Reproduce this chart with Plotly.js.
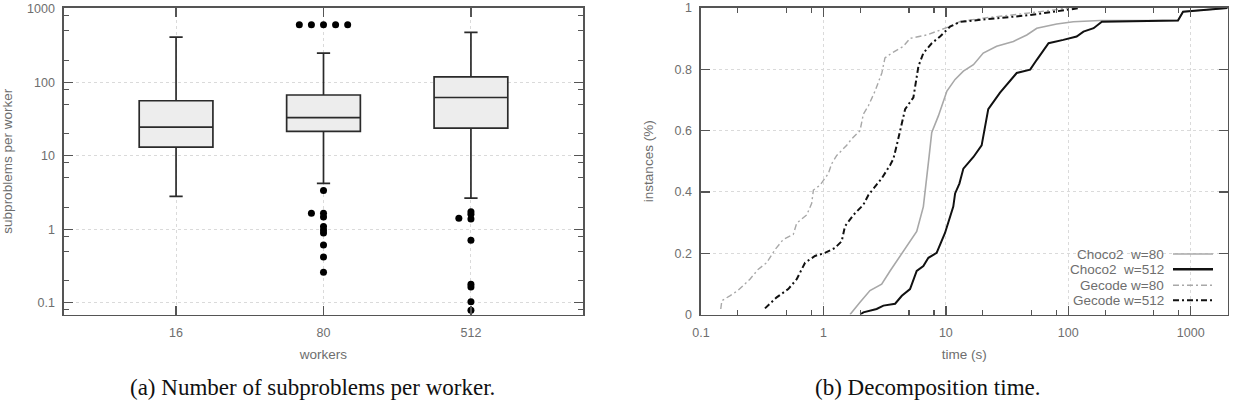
<!DOCTYPE html>
<html>
<head>
<meta charset="utf-8">
<script src="https://cdn.plot.ly/plotly-3.0.1.min.js"></script>
<style>html,body{margin:0;padding:0;background:#fff;}#chart{width:1236px;height:402px;}</style>
</head>
<body>
<div id="chart"></div>
<script>
// ---------- Data: (a) subproblems per worker ----------
const workerCategories = ['16', '80', '512'];
const boxLowerWhisker = [2.8, 4.2, 2.65];
const boxQ1 = [13.1, 21.4, 23.8];
const boxMedian = [24.5, 33, 62];
const boxQ3 = [56, 67, 118];
const boxUpperWhisker = [412, 249, 476];
const outliers16 = [];
const outliers80 = [604, 604, 604, 604, 604, 3.36, 1.65, 1.65, 1.47, 1.09, 0.975, 0.89, 0.61, 0.42, 0.26];
const outliers512 = [1.73, 1.6, 1.38, 1.41, 0.71, 0.178, 0.164, 0.103, 0.079];
const yTickVals = [0.1, 1, 10, 100, 1000];
const yTickText = ['0.1', '1', '10', '100', '1000'];

// ---------- Data: (b) decomposition time ----------
const choco80Time = [1.65, 1.70, 1.99, 2.40, 2.99, 3.50, 4.23, 4.94, 5.78, 6.55, 6.98, 7.29, 7.67, 8.69, 10.2, 11.9, 13.9, 16.8, 20.2, 26.0, 35.6, 45.8, 55.3, 80.5, 110, 182, 787, 866, 2000];
const choco80Frac = [0.0, 0.007, 0.04, 0.078, 0.099, 0.142, 0.191, 0.234, 0.271, 0.352, 0.438, 0.514, 0.594, 0.648, 0.729, 0.767, 0.794, 0.815, 0.853, 0.875, 0.891, 0.912, 0.934, 0.948, 0.955, 0.959, 0.959, 0.988, 1.0];
const choco512Time = [2.0, 2.12, 2.72, 3.09, 3.85, 4.37, 5.1, 5.78, 6.55, 7.2, 8.41, 9.84, 11.5, 11.9, 12.9, 13.9, 16.8, 19.6, 22.2, 27.7, 37.9, 48.8, 55.3, 69, 91, 117, 133, 161, 188, 787, 866, 2000];
const choco512Frac = [0.0, 0.007, 0.018, 0.029, 0.035, 0.061, 0.083, 0.142, 0.158, 0.185, 0.201, 0.266, 0.352, 0.395, 0.427, 0.476, 0.514, 0.552, 0.67, 0.724, 0.788, 0.799, 0.831, 0.885, 0.896, 0.907, 0.923, 0.934, 0.955, 0.959, 0.988, 1.0];
const gecode80Time = [0.145, 0.148, 0.172, 0.20, 0.251, 0.294, 0.344, 0.403, 0.47, 0.567, 0.605, 0.731, 0.802, 0.828, 0.938, 1.097, 1.169, 1.285, 1.55, 1.70, 1.99, 2.12, 2.33, 2.64, 3.0, 3.18, 3.61, 4.5, 5.1, 6.98, 8.97, 10.8, 13.1, 20.2, 48.8, 100];
const gecode80Frac = [0.018, 0.045, 0.061, 0.078, 0.115, 0.148, 0.169, 0.212, 0.245, 0.261, 0.298, 0.325, 0.363, 0.406, 0.422, 0.46, 0.492, 0.519, 0.552, 0.573, 0.6, 0.654, 0.681, 0.729, 0.788, 0.837, 0.853, 0.875, 0.901, 0.912, 0.928, 0.94, 0.956, 0.967, 0.984, 1.0];
const gecode512Time = [0.333, 0.415, 0.516, 0.605, 0.708, 0.853, 1.03, 1.24, 1.41, 1.50, 1.76, 2.12, 2.33, 2.56, 2.99, 3.5, 3.73, 3.97, 4.23, 4.65, 5.43, 5.78, 5.97, 6.55, 7.67, 8.97, 10.8, 13.1, 20.2, 48.8, 125];
const gecode512Frac = [0.02, 0.056, 0.083, 0.115, 0.169, 0.191, 0.201, 0.217, 0.239, 0.288, 0.325, 0.358, 0.39, 0.411, 0.444, 0.487, 0.508, 0.552, 0.6, 0.67, 0.708, 0.767, 0.81, 0.853, 0.885, 0.907, 0.939, 0.955, 0.962, 0.977, 1.0];
const seriesNames = ['Choco2\u00a0 w=80', 'Choco2\u00a0 w=512', 'Gecode w=80', 'Gecode w=512'];
const xTickVals2 = [0.1, 1, 10, 100, 1000];
const xTickText2 = ['0.1', '1', '10', '100', '1000'];
const yTickVals2 = [0, 0.2, 0.4, 0.6, 0.8, 1];
const yTickText2 = ['0', '0.2', '0.4', '0.6', '0.8', '1'];
const captionA = '(a) Number of subproblems per worker.';
const captionB = '(b) Decomposition time.';

// ---------- helpers ----------
function minorLogTicks(fromExp, toExp) {
  const out = [];
  for (let e = fromExp; e <= toExp; e++) [2, 5, 8].forEach(m => out.push(m * Math.pow(10, e)));
  return out;
}
// gnuplot-like jitter for overlapping outliers: 0, -1, +1, -2, +2 ...
function jitterX(vals, idx) {
  const clusters = [];
  return vals.map(v => {
    let c = clusters.find(c => Math.abs(Math.log10(c.v) - Math.log10(v)) < 0.02);
    if (!c) { c = { v: v, n: 0 }; clusters.push(c); }
    const k = c.n++;
    const off = k === 0 ? 0 : (k % 2 === 1 ? -Math.ceil(k / 2) : Math.ceil(k / 2));
    return idx + off * 0.082;
  });
}

const FONT = 'Liberation Sans, Arial, sans-serif';
const TXT = '#6e6e6e';
const AX = '#555555';
const GRID = '#dadada';
const catIdx = workerCategories.map((c, i) => i);

const outlierGroups = [outliers16, outliers80, outliers512];
const outX = [], outY = [];
outlierGroups.forEach((g, i) => { jitterX(g, i).forEach(x => outX.push(x)); g.forEach(v => outY.push(v)); });

const traces = [
  {
    type: 'box', x: catIdx, q1: boxQ1, median: boxMedian, q3: boxQ3,
    lowerfence: boxLowerWhisker, upperfence: boxUpperWhisker,
    width: 0.5, whiskerwidth: 0.18, boxpoints: false,
    fillcolor: '#ededed', line: { color: '#2a2a2a', width: 1.7 },
    xaxis: 'x', yaxis: 'y', showlegend: false, hoverinfo: 'skip'
  },
  {
    type: 'scatter', mode: 'markers', x: outX, y: outY,
    marker: { color: '#000', size: 7 }, xaxis: 'x', yaxis: 'y', showlegend: false
  },
  { type: 'scatter', mode: 'lines', x: choco80Time, y: choco80Frac, name: seriesNames[0], line: { color: '#a8a8a8', width: 1.6 }, xaxis: 'x2', yaxis: 'y2', showlegend: false },
  { type: 'scatter', mode: 'lines', x: gecode80Time, y: gecode80Frac, name: seriesNames[2], line: { color: '#a8a8a8', width: 1.4, dash: '6px,3px,2px,3px' }, xaxis: 'x2', yaxis: 'y2', showlegend: false },
  { type: 'scatter', mode: 'lines', x: gecode512Time, y: gecode512Frac, name: seriesNames[3], line: { color: '#111', width: 2, dash: '6px,3px,2px,3px' }, xaxis: 'x2', yaxis: 'y2', showlegend: false },
  { type: 'scatter', mode: 'lines', x: choco512Time, y: choco512Frac, name: seriesNames[1], line: { color: '#111', width: 2 }, xaxis: 'x2', yaxis: 'y2', showlegend: false }
];

const commonAxis = {
  showline: true, mirror: 'ticks', linecolor: AX, linewidth: 1.6,
  ticks: 'inside', ticklen: 9, tickwidth: 1.3, tickcolor: AX,
  showgrid: true, gridcolor: GRID, griddash: 'dot', gridwidth: 1,
  zeroline: false, tickfont: { family: FONT, size: 12.5, color: TXT },
  ticklabeloverflow: 'allow',
  automargin: false
};

const Y_DOMAIN = [1 - 314.5 / 402, 1 - 8 / 402];

const layout = {
  width: 1236, height: 402,
  margin: { l: 0, r: 0, t: 0, b: 0, pad: 0 },
  paper_bgcolor: '#fff', plot_bgcolor: '#fff',
  showlegend: false,
  xaxis: Object.assign({}, commonAxis, {
    domain: [64 / 1236, 583 / 1236], range: [-0.76, 2.76],
    tickmode: 'array', tickvals: catIdx, ticktext: workerCategories,
    ticklabelstandoff: 6,
    title: { text: 'workers', font: { family: FONT, size: 13.5, color: TXT }, standoff: 10 }
  }),
  yaxis: Object.assign({}, commonAxis, {
    domain: Y_DOMAIN, type: 'log', range: [-1.16, 3.01],
    tickmode: 'array', tickvals: yTickVals, ticktext: yTickText,
    ticklabelstandoff: 5,
    minor: { tickmode: 'array', tickvals: minorLogTicks(-2, 2), ticks: 'inside', ticklen: 5, tickwidth: 1.2, tickcolor: AX, showgrid: false },
    title: { text: 'subproblems per worker', font: { family: FONT, size: 13.5, color: TXT }, standoff: 17 }
  }),
  xaxis2: Object.assign({}, commonAxis, {
    domain: [701 / 1236, 1227.7 / 1236], type: 'log', range: [-1, Math.log10(2005)],
    anchor: 'y2',
    tickmode: 'array', tickvals: xTickVals2, ticktext: xTickText2,
    ticklabelstandoff: 6,
    minor: { tickmode: 'array', tickvals: minorLogTicks(-1, 2), ticks: 'inside', ticklen: 5, tickwidth: 1.2, tickcolor: AX, showgrid: false },
    title: { text: 'time (s)', font: { family: FONT, size: 13.5, color: TXT }, standoff: 10 }
  }),
  yaxis2: Object.assign({}, commonAxis, {
    domain: Y_DOMAIN, range: [0, 1], anchor: 'x2',
    tickmode: 'array', tickvals: yTickVals2, ticktext: yTickText2,
    ticklabelstandoff: 5,
    title: { text: 'instances (%)', font: { family: FONT, size: 13.5, color: TXT }, standoff: 18 }
  }),
  annotations: [],
  shapes: []
};

// gnuplot-style legend: right-aligned text, line sample on the right
const legendStyles = [
  { color: '#a8a8a8', width: 1.6, dash: 'solid' },
  { color: '#111', width: 2.4, dash: 'solid' },
  { color: '#a8a8a8', width: 1.4, dash: '6px,3px,2px,3px' },
  { color: '#111', width: 2, dash: '6px,3px,2px,3px' }
];
const legendRowsPx = [254, 269.3, 285.3, 300.3];
seriesNames.forEach((n, i) => {
  const yp = 1 - legendRowsPx[i] / 402;
  layout.annotations.push({
    xref: 'paper', yref: 'paper', x: 1166 / 1236, y: yp, xanchor: 'right', yanchor: 'middle',
    text: n, showarrow: false, font: { family: FONT, size: 13.5, color: TXT }
  });
  layout.shapes.push({
    type: 'line', xref: 'paper', yref: 'paper', x0: 1173 / 1236, x1: 1213 / 1236, y0: yp, y1: yp,
    line: legendStyles[i]
  });
});

// LaTeX-style subfigure captions
[[captionA, 312], [captionB, 928]].forEach(([t, xc]) => {
  layout.annotations.push({
    xref: 'paper', yref: 'paper', x: xc / 1236, y: 0, xanchor: 'center', yanchor: 'bottom',
    text: t, showarrow: false, font: { family: 'Liberation Serif, Times New Roman, serif', size: 23, color: '#111' }
  });
});

Plotly.newPlot('chart', traces, layout, { displayModeBar: false, staticPlot: true });
</script>
</body>
</html>
